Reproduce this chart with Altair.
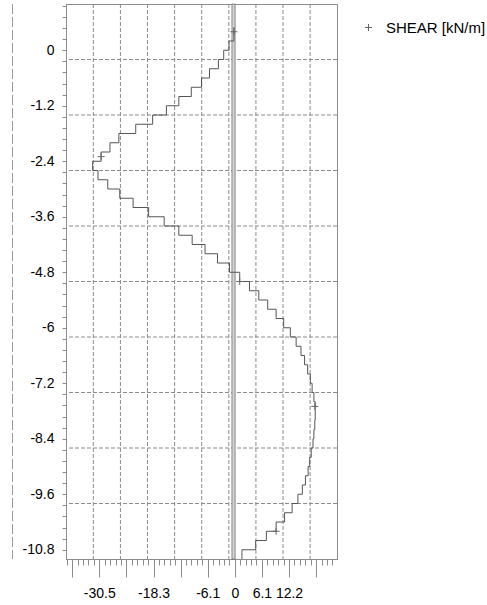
import json
import altair as alt
import pandas as pd

# Interval boundaries of the shear diagram, depth in m (top to bottom)
depth_bounds = [0.5, 0.2, 0.0, -0.2, -0.4, -0.6, -0.8, -1.0, -1.2, -1.4, -1.6,
                -1.8, -2.0, -2.2, -2.4, -2.6, -2.8, -3.0, -3.2, -3.4, -3.6,
                -3.8, -4.0, -4.2, -4.4, -4.6, -4.8, -5.0, -5.2, -5.4, -5.6,
                -5.8, -6.0, -6.2, -6.4, -6.6, -6.8, -7.0, -7.2, -7.4, -7.6,
                -7.8, -8.0, -8.2, -8.4, -8.6, -8.8, -9.0, -9.2, -9.4, -9.6,
                -9.8, -10.0, -10.2, -10.4, -10.6, -10.8, -11.0]

# Shear force in each interval, kN/m
shear = [-0.2, -1.3, -2.5, -3.7, -5.7, -7.5, -9.8, -12.6, -15.4, -18.5,
         -22.3, -26.1, -28.1, -30.1, -32.0, -30.8, -28.6, -25.9, -22.9, -19.4,
         -15.9, -12.6, -9.6, -6.7, -3.9, -1.2, 1.1, 3.3, 5.4, 7.4,
         9.3, 11.0, 12.5, 13.8, 14.9, 15.7, 16.4, 17.0, 17.4, 17.8,
         18.1, 18.1, 18.0, 17.8, 17.6, 17.2, 16.85, 16.5, 15.9, 15.2,
         14.2, 12.9, 11.2, 9.3, 7.1, 4.7, 1.6]

# Sampled points shown with a "+" symbol
marker_depth = [0.4, -2.3, -5.0, -7.7, -10.4]
marker_shear = [-0.2, -30.1, 1.1, 18.0, 9.3]

series_name = "SHEAR [kN/m]"

# Wall strip drawn along the zero line
wall_left, wall_right = -0.65, 0.07

# Axis labels and grid positions
y_labels = [0, -1.2, -2.4, -3.6, -4.8, -6, -7.2, -8.4, -9.6, -10.8]
x_labels = [-30.5, -18.3, -6.1, 0, 6.1, 12.2]
x_major = [-36.6, -30.5, -24.4, -18.3, -12.2, -6.1, 0, 6.1, 12.2, 18.3]
x_grid = [-31.85, -25.75, -19.65, -13.55, -7.45, -1.35, 4.75, 10.85, 16.95]
y_grid = [-0.2, -1.4, -2.6, -3.8, -5.0, -6.2, -7.4, -8.6, -9.8]

x_ticks = [round(-37.82 + 1.22 * i, 2) for i in range(50)]
y_ticks = [round(0.96 - 0.24 * i, 2) for i in range(50)]

assert len(depth_bounds) == len(shear) + 1

# Staircase outline: each interval contributes its top and bottom point
rows = []
for i, v in enumerate(shear):
    rows.append({"shear": v, "depth": depth_bounds[i], "idx": 2 * i})
    rows.append({"shear": v, "depth": depth_bounds[i + 1], "idx": 2 * i + 1})
steps = pd.DataFrame(rows)

markers = pd.DataFrame({"shear": marker_shear, "depth": marker_depth,
                        "series": [series_name] * len(marker_shear)})
wall = pd.DataFrame({"x1": [wall_left], "x2": [wall_right], "y1": [1.0], "y2": [-11.0]})
xg = pd.DataFrame({"g": x_grid})
yg = pd.DataFrame({"g": y_grid})

FONT = "Liberation Sans"
GRID = "#8c8c8c"
AXIS = "#8c8c8c"

xscale = alt.Scale(domain=[-38, 23], nice=False, zero=False)
yscale = alt.Scale(domain=[-11, 1], nice=False, zero=False)

major_test = "indexof(" + json.dumps(x_major) + ", datum.value) >= 0"
xaxis = alt.Axis(
    values=x_ticks,
    labelExpr="indexof(" + json.dumps(x_labels) + ", datum.value) >= 0 ? '' + datum.value : ''",
    tickSize={"condition": {"test": major_test, "value": 18}, "value": 6},
    tickColor=AXIS, domainColor=AXIS, grid=False, title=None,
    labelFont=FONT, labelFontSize=14, labelColor="black",
    labelPadding=9, labelOverlap=False, labelFlush=False, labelBound=False,
)
yaxis = alt.Axis(
    values=y_ticks,
    labelExpr="indexof(" + json.dumps(y_labels) + ", datum.value) >= 0 ? '' + datum.value : ''",
    tickSize=4, tickColor=AXIS, domainColor=AXIS, grid=False, title=None,
    labelFont=FONT, labelFontSize=14, labelColor="black",
    labelPadding=8, labelOverlap=False, labelFlush=False, labelBound=False,
)


def X(field):
    return alt.X(field, type="quantitative", scale=xscale, axis=xaxis)


def Y(field):
    return alt.Y(field, type="quantitative", scale=yscale, axis=yaxis)


grid_x = alt.Chart(xg).mark_rule(color=GRID, strokeDash=[4, 2], strokeWidth=1).encode(x=X("g"))
grid_y = alt.Chart(yg).mark_rule(color=GRID, strokeDash=[4, 2], strokeWidth=1).encode(y=Y("g"))

wall_rect = alt.Chart(wall).mark_rect(fill="#d2d2d2", stroke="#666666", strokeWidth=0.7).encode(
    x=X("x1"), x2="x2", y=Y("y1"), y2="y2"
)

line = alt.Chart(steps).mark_line(color="#555555", strokeWidth=1).encode(
    x=X("shear"), y=Y("depth"), order="idx:Q"
)

plus_path = "M-1,0L1,0M0,-1L0,1"
points = alt.Chart(markers).mark_point(shape=plus_path, size=49, filled=False, strokeWidth=1,
                                       opacity=1).encode(
    x=X("shear"), y=Y("depth"),
    color=alt.Color("series:N", scale=alt.Scale(range=["#666666"]),
                    legend=alt.Legend(orient="none", legendX=295, legendY=16, title=None,
                                      symbolType=plus_path, symbolSize=49, symbolStrokeWidth=1,
                                      symbolOpacity=1,
                                      labelFont=FONT, labelFontSize=15, labelColor="black",
                                      labelOffset=10, padding=0)),
)

# Dashed reference line to the left of the depth axis
left_line = alt.Chart(xg).mark_rule(color="#9a9a9a", strokeDash=[10, 3], strokeWidth=1).encode(
    x=alt.value(-53.5), y=alt.value(0), y2=alt.value(555)
)

chart = alt.layer(grid_x, grid_y, wall_rect, line, points, left_line).properties(
    width=271, height=555,
    autosize=alt.AutoSizeParams(type="none"),
    padding={"left": 66, "top": 4, "right": 150, "bottom": 46},
    background="white",
).configure_view(stroke=AXIS, strokeWidth=1)

chart.save("out.html", embed_options={"renderer": "svg", "actions": False})
